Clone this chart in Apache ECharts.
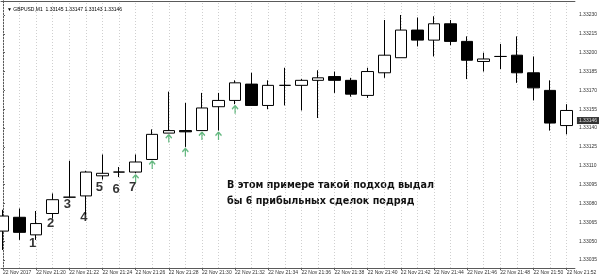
<!DOCTYPE html>
<html><head><meta charset="utf-8">
<script src="https://cdn.jsdelivr.net/npm/echarts@6/dist/echarts.min.js"></script>
<style>html,body{margin:0;padding:0;background:#fff}#c{width:600px;height:279px}</style>
</head><body><div id="c"></div>
<script>
// ---- data ----
const times = ['21:18','21:19','21:20','21:21','21:22','21:23','21:24','21:25','21:26','21:27','21:28','21:29','21:30','21:31','21:32','21:33','21:34','21:35','21:36','21:37','21:38','21:39','21:40','21:41','21:42','21:43','21:44','21:45','21:46','21:47','21:48','21:49','21:50','21:51','21:52'];
const open  = [1.33058,1.33069,1.33055,1.33072,1.33085,1.33086,1.33102,1.33105,1.33105,1.33115,1.33136,1.33138,1.33138,1.33157,1.33162,1.33175,1.33158,1.33174,1.33174,1.33178,1.33181,1.33178,1.33166,1.33184,1.33196,1.33218,1.33210,1.33223,1.33209,1.33193,1.33197,1.33198,1.33184,1.33170,1.33142];
const close = [1.33070,1.33057,1.33064,1.33083,1.33085,1.33105,1.33104,1.33105,1.33113,1.33135,1.33138,1.33137,1.33156,1.33162,1.33176,1.33158,1.33174,1.33174,1.33178,1.33180,1.33178,1.33167,1.33185,1.33198,1.33218,1.33210,1.33223,1.33209,1.33194,1.33195,1.33197,1.33184,1.33172,1.33144,1.33154];
const low   = [1.33043,1.33051,1.33051,1.33068,1.33085,1.33071,1.33099,1.33101,1.33104,1.33115,1.33136,1.33125,1.33138,1.33138,1.33159,1.33158,1.33155,1.33158,1.33154,1.33148,1.33168,1.33165,1.33164,1.33180,1.33196,1.33205,1.33197,1.33206,1.33179,1.33185,1.33187,1.33176,1.33162,1.33138,1.33135];
const high  = [1.33075,1.33076,1.33074,1.33088,1.33114,1.33106,1.33119,1.33109,1.33119,1.33139,1.33169,1.33160,1.33168,1.33168,1.33178,1.33184,1.33178,1.33188,1.33179,1.33186,1.33185,1.33180,1.33188,1.33226,1.33230,1.33228,1.33229,1.33226,1.33213,1.33200,1.33207,1.33213,1.33197,1.33178,1.33159];
const xTickLabels = ['22 Nov 2017','22 Nov 21:20','22 Nov 21:22','22 Nov 21:24','22 Nov 21:26','22 Nov 21:28','22 Nov 21:30','22 Nov 21:32','22 Nov 21:34','22 Nov 21:36','22 Nov 21:38','22 Nov 21:40','22 Nov 21:42','22 Nov 21:44','22 Nov 21:46','22 Nov 21:48','22 Nov 21:50','22 Nov 21:52'];
const yTicks = [1.33035,1.33050,1.33065,1.33080,1.33095,1.33110,1.33125,1.33140,1.33155,1.33170,1.33185,1.33200,1.33215,1.33230];
const arrowIdx = [8,9,10,11,12,13,14];
const noteText  = ['1','2','3','4','5','6','7'];
const noteIdx   = [1.78,2.88,3.88,4.88,5.82,6.82,7.82];
const notePrice = [1.33048,1.33064,1.33079,1.33069,1.33093,1.33091,1.33093];
const lastPrice = 1.33146;
const titleText = '\u25BC GBPUSD,M1  1.33145 1.33147 1.33143 1.33146';
const annotation = ['В этом примере такой подход выдал','бы 6 прибыльных сделок подряд'];

// ---- chart ----
const chart = echarts.init(document.getElementById('c'), null, {renderer:'canvas'});
const candleData = times.map((t,i)=>[i, open[i], close[i], low[i], high[i]]);
const labelVals = xTickLabels.map((_,k)=>k*2);
const frame = '#5a5a5a';
const gridLine = {color:'#cfcfcf', type:[1,2], width:1};
const yMin = 1.3302863, yMax = 1.3324114, xMin = -0.12, xMax = 34.5;

chart.setOption({
  animation:false,
  backgroundColor:'#fff',
  title:{text:titleText, left:2, top:2, textStyle:{fontSize:5, fontWeight:'normal', color:'#000', fontFamily:'Liberation Sans'}},
  grid:{left:0, right:23, top:1, bottom:11, containLabel:false},
  xAxis:[{
    type:'value', min:xMin, max:xMax,
    axisLine:{show:true, lineStyle:{color:frame, width:1}},
    axisTick:{show:true, length:2, customValues:labelVals, lineStyle:{color:frame}},
    axisLabel:{show:true, customValues:labelVals, align:'left', fontSize:5, color:'#333', margin:2, fontFamily:'Liberation Sans',
      formatter:(v)=>xTickLabels[Math.round(v/2)]},
    splitLine:{show:false}
  },{
    type:'value', position:'top', min:xMin, max:xMax,
    axisLine:{show:true, lineStyle:{color:frame, width:1}},
    axisTick:{show:false}, axisLabel:{show:false}, splitLine:{show:false}
  }],
  yAxis:[{
    type:'value', position:'right', min:yMin, max:yMax,
    axisLine:{show:true, lineStyle:{color:frame, width:1}},
    axisTick:{show:true, length:2, customValues:yTicks, lineStyle:{color:frame}},
    axisLabel:{show:true, customValues:yTicks, fontSize:5, color:'#333', margin:4, fontFamily:'Liberation Sans',
      formatter:(v)=>v.toFixed(5)},
    splitLine:{show:false}
  },{
    type:'value', position:'left', min:yMin, max:yMax,
    axisLine:{show:true, lineStyle:{color:frame, width:1}},
    axisTick:{show:false}, axisLabel:{show:false}, splitLine:{show:false}
  }],
  series:[
    {
      type:'line', data:[], z:1, silent:true,
      markLine:{
        silent:true, symbol:'none', animation:false, z:1, zlevel:0,
        label:{show:false},
        lineStyle:gridLine,
        data: times.map((t,i)=>({xAxis:i})).concat(yTicks.map(v=>({yAxis:v})))
      }
    },
    {
      type:'candlestick', z:3,
      data:candleData,
      encode:{x:0, y:[1,2,3,4]},
      barWidth:12,
      itemStyle:{color:'#ffffff', color0:'#000000', borderColor:'#000000', borderColor0:'#000000', borderWidth:1}
    },
    {
      type:'scatter', z:10, silent:true, clip:false,
      data:[[xMax, lastPrice]],
      symbolSize:0,
      label:{show:true, position:'right', distance:2, formatter:lastPrice.toFixed(5),
        backgroundColor:'#000', color:'#fff', fontSize:5, padding:[1,2,1,2], fontFamily:'Liberation Sans'}
    },
    {
      type:'scatter', z:4, silent:true,
      data: arrowIdx.map(i=>[i, low[i]]),
      symbol:'path://M3,0 L0,3 M3,0 L6,3 M3,0 L3,7',
      symbolSize:[6,8],
      symbolOffset:[0,5.5],
      itemStyle:{color:'rgba(0,0,0,0)', borderColor:'#3fa862', borderWidth:1.4}
    },
    {
      type:'scatter', z:5, silent:true,
      data: noteIdx.map((x,k)=>({value:[x, notePrice[k]], name:noteText[k]})),
      symbolSize:0,
      label:{show:true, position:'inside', formatter:(p)=>p.name, fontSize:13, fontWeight:'bold', color:'#000',
        fontFamily:'"Liberation Sans Narrow","Liberation Sans"'}
    }
  ],
  graphic:[{
    type:'text', left:227, top:177, silent:true,
    style:{text:annotation.join('\n'), font:'bold 9.6px "DejaVu Sans"', lineHeight:16.5, fill:'#111'}
  }]
});
</script></body></html>
